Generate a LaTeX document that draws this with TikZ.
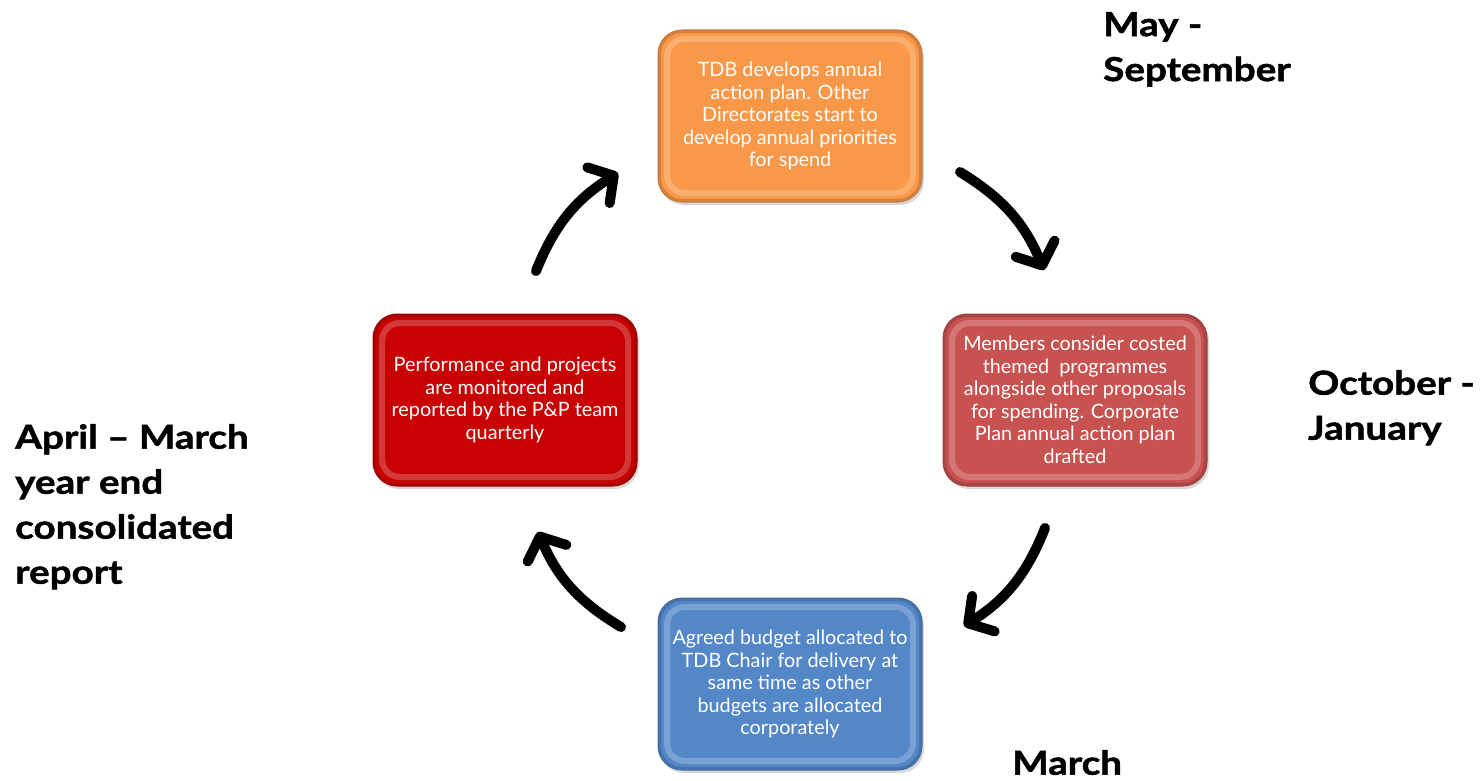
\documentclass[tikz,border=0pt]{standalone}
\usepackage{fontspec}
\setmainfont{Lato}
\newfontfamily\periodfont[BoldFeatures={FakeStretch=1.17,FakeBold=1.5}]{Lato}
\usetikzlibrary{arrows.meta,shadows}
\definecolor{corange}{RGB}{249,152,72}
\definecolor{cpink}{RGB}{199,82,80}
\definecolor{cred}{RGB}{200,2,2}
\definecolor{cblue}{RGB}{84,135,200}
\tikzset{
  stagebox/.style={rounded corners=24pt, minimum width=264pt, minimum height=172pt,
    fill=#1, draw=#1!80!black, line width=1pt, text=white, align=center,
    font=\fontsize{19.8}{22.5}\selectfont, inner sep=2pt,
    drop shadow={shadow xshift=2pt, shadow yshift=-3pt, opacity=0.3},
    path picture={
      \draw[white, opacity=0.22, line width=6pt, rounded corners=18pt]
        ([shift={(9pt,9pt)}]path picture bounding box.south west) rectangle
        ([shift={(-9pt,-9pt)}]path picture bounding box.north east);
      \draw[black, opacity=0.15, line width=6pt, rounded corners=24pt]
        (path picture bounding box.south west) rectangle
        (path picture bounding box.north east);
    }},
  cyclearrow/.style={line width=10pt, line cap=round, black,
    -{Straight Barb[length=18pt, width=42pt, line cap=round, line join=round]}},
  period/.style={anchor=north west, inner sep=0pt, align=left,
    font=\fontsize{33}{45}\periodfont\bfseries}
}
\begin{document}
\begin{tikzpicture}[x=1pt,y=-1pt]
\useasboundingbox (0,0) rectangle (1482,781);
\node[stagebox=corange] (top) at (790,116) {TDB develops annual\\action plan. Other\\Directorates start to\\develop annual priorities\\for spend};
\node[stagebox=cpink] (right) at (1075,400) {Members consider costed\\themed\ \ programmes\\alongside other proposals\\for spending. Corporate\\Plan annual action plan\\drafted};
\node[stagebox=cred] (left) at (505,400) {Performance and projects\\are monitored and\\reported by the P\&P team\\quarterly};
\node[stagebox=cblue] (bottom) at (790,684) {Agreed budget allocated to\\TDB Chair for delivery at\\same time as other\\budgets are allocated\\corporately};

\node[period] (l1) at (1103,12) {May -\\September};
\node[period] (l2) at (1308,370) {October -\\January};
\node[period] (l3) at (15,424) {April – March\\year end\\consolidated\\report};
\node[period] (l4) at (1012,750) {March};

\coordinate (a1s) at (960,172);
\coordinate (a1e) at (1044,270);
\coordinate (a2s) at (1045,528);
\coordinate (a2e) at (964,626);
\coordinate (a3s) at (621,627);
\coordinate (a3e) at (538,532);
\coordinate (a4s) at (536,271);
\coordinate (a4e) at (618,173);
\draw[cyclearrow] (a1s) to[bend left=18] (a1e);
\draw[cyclearrow] (a2s) to[bend left=18] (a2e);
\draw[cyclearrow] (a3s) to[bend left=18] (a3e);
\draw[cyclearrow] (a4s) to[bend left=18] (a4e);
\end{tikzpicture}
\end{document}
